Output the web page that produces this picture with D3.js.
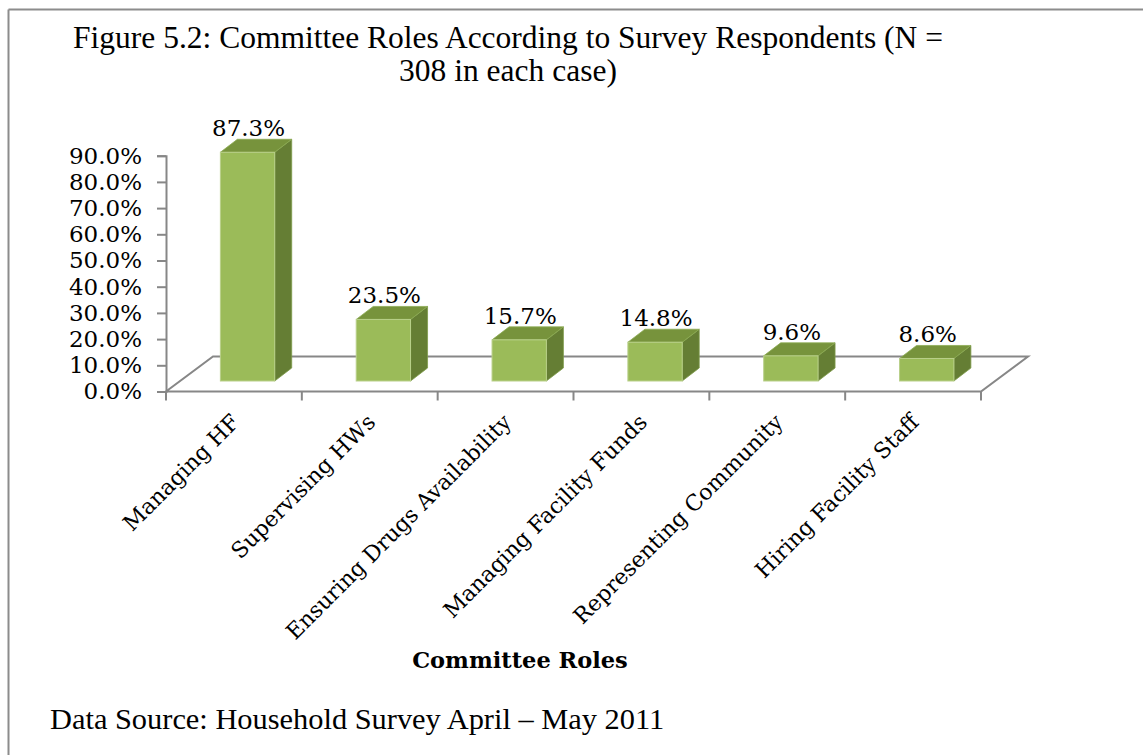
<!DOCTYPE html>
<html>
<head>
<meta charset="utf-8">
<script src="https://cdn.jsdelivr.net/npm/d3@7/dist/d3.min.js"></script>
<style>
  html, body { margin: 0; padding: 0; background: #fff; }
  svg { display: block; }
  text { fill: #000; }
  .serif-a { font-family: "Liberation Serif", "Times New Roman", serif; }
  .serif-b { font-family: "DejaVu Serif", serif; }
</style>
</head>
<body>
<svg id="chart" width="1143" height="755"></svg>
<script>
// Committee roles reported by household survey respondents (N = 308)
const categories = [
  "Managing HF",
  "Supervising HWs",
  "Ensuring Drugs Availability",
  "Managing Facility Funds",
  "Representing Community",
  "Hiring Facility Staff"
];
const shares = [0.873, 0.235, 0.157, 0.148, 0.096, 0.086];
const yTicks = [0, 0.1, 0.2, 0.3, 0.4, 0.5, 0.6, 0.7, 0.8, 0.9];
const titleLines = [
  "Figure 5.2: Committee Roles According to Survey Respondents (N =",
  "308 in each case)"
];
const axisTitle = "Committee Roles";
const sourceNote = "Data Source: Household Survey April \u2013 May 2011";

const svg = d3.select("#chart");
const W = 1143, H = 755;

// frame lines (top and left)
svg.append("line").attr("x1", 8.5).attr("x2", W).attr("y1", 9.5).attr("y2", 9.5)
  .attr("stroke", "#8c8c8c").attr("stroke-width", 2);
svg.append("line").attr("x1", 8.5).attr("x2", 8.5).attr("y1", 9.5).attr("y2", H)
  .attr("stroke", "#8c8c8c").attr("stroke-width", 2);

// plot geometry
const floorLeft = 166, floorRight = 981, baseY = 391.5;
const depthX = 47, depthY = 35;         // floor depth offset
const y = d3.scaleLinear().domain([0, 0.9]).range([baseY, 155.7]);
const x = d3.scaleBand().domain(categories).range([floorLeft, floorRight]);
const barW = x.bandwidth() * 0.4;
const barShiftX = depthX * 0.29, barShiftY = depthY * 0.3;   // bar sits inside floor depth
const sideX = 17, sideY = 13;            // bar depth offset
const axisColor = "#878787";

// floor outline
const floor = [
  [floorLeft, baseY], [floorRight, baseY],
  [floorRight + depthX, baseY - depthY], [floorLeft + depthX, baseY - depthY]
];
svg.append("path")
  .attr("d", d3.line()(floor) + "Z")
  .attr("fill", "none").attr("stroke", axisColor).attr("stroke-width", 2);

// y axis
const yAxis = d3.axisLeft(y).tickValues(yTicks).tickFormat(d3.format(".1%")).tickSize(9).tickPadding(15);
const gy = svg.append("g").attr("transform", `translate(${floorLeft},0)`).call(yAxis);
gy.select(".domain").attr("stroke", axisColor).attr("stroke-width", 2);
gy.selectAll(".tick line").attr("stroke", axisColor).attr("stroke-width", 2);
gy.selectAll(".tick text").attr("font-family", "DejaVu Serif").attr("font-size", 23).attr("fill", "#000");

// x axis ticks at category boundaries
const bounds = categories.map(c => x(c)).concat([floorRight]);
svg.append("g").selectAll("line").data(bounds).join("line")
  .attr("x1", d => d).attr("x2", d => d)
  .attr("y1", baseY).attr("y2", baseY + 9)
  .attr("stroke", axisColor).attr("stroke-width", 2);

// 3D bars
const bars = svg.append("g").selectAll("g").data(categories.map((c, i) => ({ c, v: shares[i] })))
  .join("g");
bars.each(function (d) {
  const g = d3.select(this);
  const x0 = x(d.c) + (x.bandwidth() - barW) / 2 + barShiftX;
  const x1 = x0 + barW;
  const yb = y(0) - barShiftY;
  const yt = y(d.v) - barShiftY;
  // side face
  g.append("path")
    .attr("d", d3.line()([[x1, yt], [x1 + sideX, yt - sideY], [x1 + sideX, yb - sideY], [x1, yb]]) + "Z")
    .attr("fill", "#657e34").attr("stroke", "#7e9a4a").attr("stroke-width", 0.8);
  // top face
  g.append("path")
    .attr("d", d3.line()([[x0, yt], [x0 + sideX, yt - sideY], [x1 + sideX, yt - sideY], [x1, yt]]) + "Z")
    .attr("fill", "#77933c").attr("stroke", "#8cab52").attr("stroke-width", 0.8);
  // front face
  g.append("rect")
    .attr("x", x0).attr("y", yt).attr("width", barW).attr("height", yb - yt)
    .attr("fill", "#9bbb59").attr("stroke", "#b9d08a").attr("stroke-width", 1);
  // value label
  g.append("text").attr("class", "serif-b")
    .attr("x", (x0 + x1) / 2 + 1).attr("y", yt - sideY - 3)
    .attr("text-anchor", "middle").attr("font-size", 23)
    .text(d3.format(".1%")(d.v));
});

// category labels, rotated
svg.append("g").selectAll("text").data(categories).join("text").attr("class", "serif-b")
  .attr("transform", d => `translate(${x(d) + x.bandwidth() / 2 + 7},${baseY + 32}) rotate(-45)`)
  .attr("text-anchor", "end").attr("font-size", 22)
  .text(d => d);

// axis title
svg.append("text").attr("class", "serif-b").attr("x", 520).attr("y", 668).attr("text-anchor", "middle")
  .attr("font-size", 22.5).attr("font-weight", "bold").text(axisTitle);

// chart title
svg.append("g").selectAll("text").data(titleLines).join("text").attr("class", "serif-a")
  .attr("x", 508).attr("y", (d, i) => 48 + i * 33)
  .attr("text-anchor", "middle").attr("font-size", 31.5)
  .text(d => d);

// source note
svg.append("text").attr("class", "serif-a").attr("x", 50).attr("y", 729).attr("font-size", 30.4).text(sourceNote);
</script>
</body>
</html>
